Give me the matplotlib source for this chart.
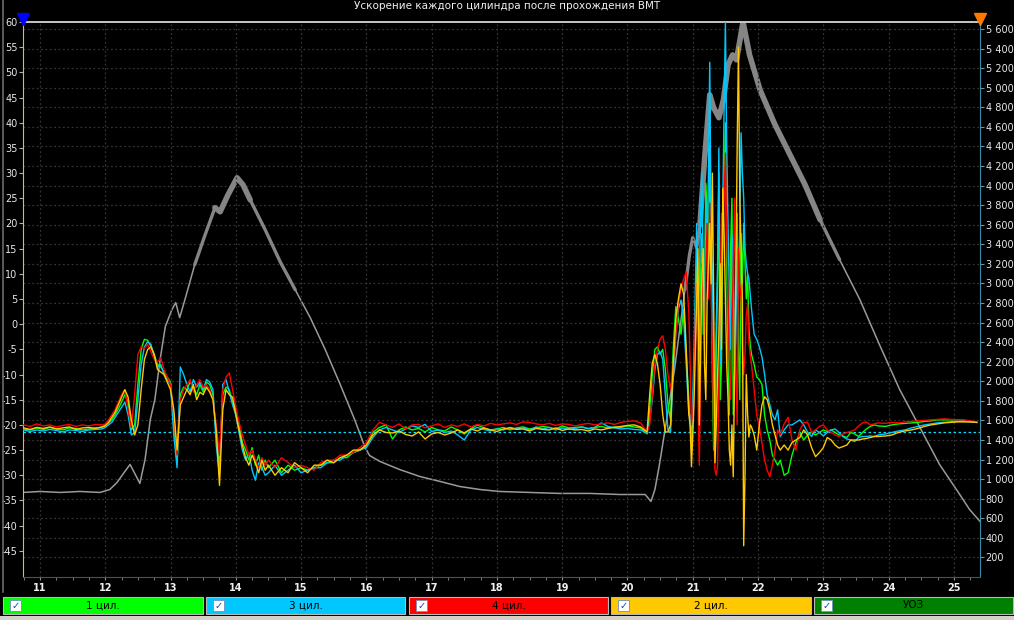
import matplotlib
matplotlib.use("Agg")
import matplotlib.pyplot as plt
import numpy as np
from matplotlib.patches import Rectangle
from matplotlib.lines import Line2D
from matplotlib.ticker import MultipleLocator, FixedLocator

plt.rcParams['font.family'] = ['DejaVu Sans']

title = "Ускорение каждого цилиндра после прохождения ВМТ"
legend_labels = ["1 цил.", "3 цил.", "4 цил.", "2 цил.", "УОЗ"]
x_ticks = [11, 12, 13, 14, 15, 16, 17, 18, 19, 20, 21, 22, 23, 24, 25]
left_ticks = [60, 55, 50, 45, 40, 35, 30, 25, 20, 15, 10, 5, 0, -5, -10, -15, -20, -25, -30, -35, -40, -45]
right_ticks = [200, 400, 600, 800, 1000, 1200, 1400, 1600, 1800, 2000, 2200, 2400, 2600, 2800,
               3000, 3200, 3400, 3600, 3800, 4000, 4200, 4400, 4600, 4800, 5000, 5200, 5400, 5600]
ref_level = -21.4

# ---- time samples for the cylinder traces ----
t_a = [10.75, 10.85, 10.95, 11.05, 11.15, 11.25, 11.35, 11.45, 11.55, 11.65, 11.75, 11.85, 11.95]
t_b = [12.00, 12.05, 12.10, 12.15, 12.20, 12.25, 12.30, 12.35, 12.40, 12.45,
       12.50, 12.55, 12.60, 12.65, 12.70, 12.75, 12.80, 12.85, 12.90, 12.95,
       13.00, 13.05, 13.10, 13.15, 13.20, 13.25, 13.30, 13.35, 13.40, 13.45,
       13.50, 13.55, 13.60, 13.65, 13.70, 13.75, 13.80, 13.85, 13.90, 13.95,
       14.00, 14.05, 14.10, 14.15, 14.20, 14.25, 14.30, 14.35, 14.40, 14.45]
t_c = [14.5, 14.6, 14.7, 14.8, 14.9, 15.0, 15.1, 15.2, 15.3, 15.4, 15.5, 15.6, 15.7, 15.8, 15.9,
       16.0, 16.1, 16.2, 16.3]
t_d = [16.4, 16.5, 16.6, 16.7, 16.8, 16.9, 17.0, 17.1, 17.2, 17.3,
       17.4, 17.5, 17.6, 17.7, 17.8, 17.9, 18.0, 18.1, 18.2, 18.3,
       18.4, 18.5, 18.6, 18.7, 18.8, 18.9, 19.0, 19.1, 19.2, 19.3,
       19.4, 19.5, 19.6, 19.7, 19.8, 19.9, 20.0, 20.1, 20.2, 20.3]
t_e1 = [20.34, 20.38, 20.42, 20.46, 20.50, 20.54, 20.58, 20.62,
        20.66, 20.70, 20.74, 20.78, 20.82, 20.86, 20.90, 20.94]
t_e2 = [20.96, 20.98, 21.00, 21.02, 21.04, 21.06, 21.08, 21.10,
        21.12, 21.14, 21.16, 21.18, 21.20, 21.22, 21.24, 21.26,
        21.28, 21.30, 21.32, 21.34, 21.36, 21.38, 21.40, 21.42,
        21.44, 21.46, 21.48, 21.50, 21.52, 21.54, 21.56, 21.58,
        21.60, 21.62, 21.64, 21.66, 21.68, 21.70, 21.72, 21.74,
        21.76, 21.78, 21.80, 21.82, 21.84, 21.86, 21.88, 21.90]
t_e3 = [21.94, 21.98, 22.02, 22.06, 22.10, 22.14, 22.18, 22.22, 22.26, 22.30]
t_f = [22.34, 22.40, 22.46, 22.52, 22.58, 22.64, 22.70, 22.76, 22.82, 22.88, 22.94, 23.00, 23.06,
       23.12, 23.18, 23.24, 23.30, 23.36, 23.42, 23.48, 23.54, 23.60, 23.66, 23.72, 23.78, 23.84]
t_g = [23.95, 24.05, 24.15, 24.25, 24.35, 24.45, 24.55, 24.65, 24.75, 24.85, 24.95, 25.05, 25.15,
       25.25, 25.35]

# ---- cylinder 1 (green) ----
c1_a = [-20.8, -21.0, -20.6, -20.9, -20.5, -20.8, -21.0, -20.6, -20.7, -21.0, -20.8, -20.6, -20.5]
c1_b = [-20.0, -19.6, -19.0, -18.0, -16.8, -15.5, -14.0, -15.5, -21.0, -20.0,
        -12.0, -5.0, -3.0, -3.2, -4.5, -6.0, -8.0, -8.5, -9.5, -10.5,
        -11.5, -20.0, -27.5, -14.0, -12.5, -13.0, -11.5, -12.5, -14.0, -12.0,
        -13.5, -11.5, -12.0, -14.0, -22.0, -28.0, -14.0, -12.5, -13.0, -15.5,
        -17.0, -20.0, -23.5, -25.0, -27.0, -24.5, -28.0, -26.0, -29.0, -27.0]
c1_c = [-28.5, -27.0, -29.5, -28.0, -29.0, -28.5, -29.0, -28.5, -28.0, -27.5, -27.5, -26.5, -26.5,
        -25.5, -25.0, -24.0, -21.5, -20.5, -20.0]
c1_d = [-22.8, -21.0, -20.4, -21.0, -20.7, -21.4, -20.5, -21.0, -21.2, -20.4,
        -21.0, -21.8, -20.8, -20.0, -20.6, -21.0, -20.8, -20.5, -21.0, -20.6,
        -20.4, -20.8, -20.6, -20.3, -20.5, -20.8, -20.2, -20.6, -20.5, -20.4,
        -20.7, -20.5, -20.3, -20.6, -20.4, -20.5, -20.2, -20.4, -20.6, -21.8]
c1_e1 = [-17, -10, -5, -4.5, -6, -5, -9, -16, -19, -5, 3.5, 1, -2, 3, -6, -15]
c1_e2 = [-20, -25, -18, -10, 2, 12, -8, -5,
         10, 18, -2, 5, 28, 22, 10, 36,
         15, -10, -25, -22, -5, 8, 30, -15,
         -8, 20, 28, 40, 12, -5, -18, 15,
         25, -18, -10, 10, 22, -5, -15, 18,
         8, 20, 12, 5, 10, -1, -4, -6]
c1_e3 = [-8, -10.5, -11, -12, -18, -21, -23, -26, -27, -28]
c1_f = [-27, -30, -29.5, -26, -23.5, -21.5, -23, -22, -21.5, -22.0, -21.5, -21.0, -21.3, -21.0,
        -21.5, -22.0, -22.2, -22.5, -21.5, -21.8, -22.3, -21.5, -20.8, -20.3, -20.0, -20.2]
c1_g = [-20.3, -20.0, -19.8, -19.7, -19.6, -19.5, -19.3, -19.2, -19.0, -19.0, -19.0, -19.0, -19.1,
        -19.3, -19.5]

# ---- cylinder 3 (cyan) ----
c3_a = [-21.0, -21.3, -21.0, -21.2, -20.9, -21.1, -21.4, -21.0, -21.1, -21.3, -21.0, -20.9, -20.8]
c3_b = [-20.5, -20.0, -19.5, -18.5, -17.5, -16.5, -15.5, -18.0, -22.0, -21.5,
        -15.0, -8.0, -4.5, -3.5, -4.0, -6.5, -8.5, -8.0, -10.0, -11.0,
        -12.0, -22.0, -28.5, -8.5, -10.0, -12.0, -13.5, -11.0, -12.5, -11.5,
        -13.0, -11.0, -11.5, -13.0, -24.0, -30.0, -12.0, -11.0, -13.5, -16.0,
        -18.0, -21.5, -25.0, -27.0, -25.5, -29.0, -31.0, -27.5, -28.5, -30.0]
c3_c = [-29.5, -28.0, -30.0, -29.0, -28.0, -29.5, -29.0, -28.5, -28.5, -27.5, -27.0, -27.0, -26.0,
        -25.5, -25.0, -24.5, -22.5, -21.0, -20.5]
c3_d = [-21.0, -21.5, -20.8, -20.2, -20.5, -19.9, -21.3, -21.0, -21.5, -21.2,
        -22.0, -23.0, -21.0, -20.5, -20.9, -21.2, -20.8, -21.0, -20.5, -20.8,
        -20.6, -21.0, -20.4, -20.8, -20.5, -21.0, -20.6, -20.9, -20.7, -20.4,
        -20.8, -20.5, -19.6, -20.3, -20.6, -20.8, -20.7, -20.9, -21.0, -21.6]
c3_e1 = [-19, -15, -9, -6, -5.5, -7, -14, -21, -21.4, -10, -2, 3, 4.8, 1, -8, -18]
c3_e2 = [-18, -22.5, -15, -5, 8, 20, 2, 8,
         22, 30, 10, -2, 25, 15, 30, 52,
         20, 10, -12, -15, 0, 12, 35, -8,
         5, 25, 42, 60, 35, 20, 5, -5,
         18, 12, -8, -3, 15, 5, 20, 38,
         30, 25, 15, 12, 10, 9, 6, 3]
c3_e3 = [-2, -3, -4.5, -6.5, -10, -14, -16, -18, -19, -17]
c3_f = [-22.3, -21.0, -20.0, -20.0, -19.5, -19.0, -20.0, -21.5, -22.3, -21.0, -21.5, -22.2, -21.5,
        -21.0, -20.8, -21.5, -22.3, -22.8, -23.0, -23.3, -22.5, -22.3, -22.3, -22.2, -22.3, -22.0]
c3_g = [-21.8, -21.5, -21.2, -21.0, -20.6, -20.3, -20.0, -19.8, -19.6, -19.5, -19.4, -19.3, -19.3,
        -19.4, -19.5]

# ---- cylinder 4 (red) ----
c4_a = [-20.0, -20.3, -19.8, -20.2, -20.0, -20.4, -20.1, -19.9, -20.3, -20.0, -20.2, -19.9, -20.0]
c4_b = [-19.8, -19.0, -18.0, -17.0, -15.5, -14.0, -13.0, -17.0, -20.5, -14.0,
        -6.0, -4.5, -4.8, -4.0, -5.5, -7.0, -7.5, -6.7, -9.0, -10.5,
        -12.0, -18.0, -26.0, -15.0, -13.0, -12.0, -11.0, -13.5, -12.0, -11.0,
        -12.5, -12.0, -13.0, -15.0, -20.0, -26.0, -13.0, -10.5, -9.7, -13.0,
        -16.5, -19.5, -22.0, -24.0, -26.0, -25.0, -27.0, -28.5, -26.5, -28.0]
c4_c = [-27.0, -28.5, -26.5, -27.5, -28.5, -28.0, -28.5, -29.0, -27.5, -27.0, -27.0, -26.0, -26.0,
        -25.5, -24.5, -23.5, -21.0, -19.5, -20.0]
c4_d = [-20.5, -19.8, -20.8, -20.0, -19.9, -20.6, -20.2, -19.8, -20.5, -20.0,
        -20.3, -19.8, -20.4, -19.9, -20.2, -19.7, -20.0, -19.8, -19.6, -19.9,
        -19.4, -19.5, -19.8, -20.0, -19.7, -20.1, -19.8, -19.9, -20.2, -19.9,
        -19.7, -20.0, -19.8, -19.6, -19.9, -19.5, -19.3, -19.2, -19.6, -21.4]
c4_e1 = [-20, -14, -8, -5, -3, -2.3, -5, -10, -13, -8, -2, 4, 7, 9, 10.4, 2]
c4_e2 = [-8, -20, -18, -12, 2, 8, -15, -28,
         -10, 12, 5, -5, 10, 20, 5, 24,
         8, -5, -20, -29, -30, -28, -10, 6,
         22, 15, 25, 34, 18, 5, -8, -15,
         -2, 10, 25, -8, -20, 15, 8, 5,
         -5, -10, -6, 2, 4, -3.7, -6, -8]
c4_e3 = [-13, -18, -20.4, -23.6, -27, -29, -30.3, -28, -25, -21]
c4_f = [-22, -19.8, -18.5, -23, -25, -21, -19.5, -19.5, -21.5, -21, -20.3, -20.0, -21, -21.5,
        -22.0, -22.3, -21.8, -21.5, -21.3, -21.0, -20.2, -19.6, -19.4, -20.0, -19.8, -19.6]
c4_g = [-19.7, -19.5, -19.6, -19.4, -19.3, -19.2, -19.1, -19.0, -18.9, -18.8, -18.9, -19.0, -19.0,
        -19.2, -19.4]

# ---- cylinder 2 (yellow) ----
c2_a = [-20.6, -20.9, -20.5, -20.7, -20.4, -20.8, -20.6, -20.4, -20.9, -20.6, -20.5, -20.7, -20.4]
c2_b = [-20.2, -19.5, -18.5, -17.5, -16.0, -14.5, -13.0, -14.5, -19.0, -22.0,
        -20.0, -13.0, -7.0, -5.0, -4.5, -6.0, -9.0, -9.5, -10.0, -11.5,
        -13.0, -17.0, -25.0, -16.0, -14.5, -13.0, -14.0, -12.0, -15.0, -13.5,
        -14.0, -12.5, -13.5, -15.0, -21.0, -32.0, -17.0, -13.0, -14.0, -14.5,
        -18.0, -21.0, -24.0, -26.5, -28.0, -26.0, -27.5, -29.5, -27.0, -29.0]
c2_c = [-28.0, -30.0, -28.5, -29.5, -27.5, -28.5, -29.5, -28.0, -28.0, -27.0, -27.5, -26.5, -26.0,
        -25.0, -25.0, -24.0, -22.0, -21.0, -21.5]
c2_d = [-21.6, -21.2, -21.9, -22.2, -21.4, -22.8, -21.8, -21.5, -22.0, -21.6,
        -21.0, -21.6, -20.8, -21.2, -20.6, -21.0, -21.3, -20.8, -20.6, -20.9,
        -20.8, -21.2, -20.7, -20.9, -21.0, -20.6, -21.1, -20.8, -21.0, -20.9,
        -21.2, -20.8, -21.0, -20.7, -20.5, -20.3, -20.1, -20.0, -20.4, -21.4]
c2_e1 = [-14, -7.7, -6, -8, -12, -18, -21.4, -21.4, -20, -8, 1, 5, 8, 6, -5, -18]
c2_e2 = [-20, -28.3, -22, -15, -5, 5, 15, -20,
         -5, 10, 15, -8, -15, 5, 12, 20,
         8, 30, 5, -27.5, -20, -10, -2, 12,
         -5, 27, 18, 5, -8, -15, -25, -28,
         -20, -30.3, -10, 10, 35, 55, 25, 15,
         5, -44, -30, -10, -18, -22.4, -20, -20.4]
c2_e3 = [-22, -25, -20, -16, -14.4, -15, -17, -20, -22, -24]
c2_f = [-25.0, -24.0, -25.0, -23.5, -23.0, -22.5, -21.0, -22.0, -24.5, -26.3, -25.5, -24.5, -22.5,
        -23.0, -24.0, -24.6, -24.3, -24.0, -23.0, -23.0, -23.0, -22.8, -22.7, -22.5, -22.3, -22.3]
c2_g = [-22.2, -22.0, -21.5, -21.2, -21.0, -20.7, -20.3, -20.0, -19.8, -19.6, -19.5, -19.4, -19.4,
        -19.4, -19.5]

# ---- engine speed (grey trace, right axis) ----
rpm_t = [10.74, 11.0, 11.31, 11.61, 11.92, 12.07, 12.18, 12.30, 12.38, 12.46, 12.53, 12.61, 12.69,
         12.76, 12.84, 12.92, 13.02, 13.08, 13.14, 13.22, 13.37, 13.53, 13.68, 13.76, 13.88, 14.02,
         14.11, 14.22, 14.45, 14.68, 14.91, 15.14, 15.37, 15.60, 15.82, 15.98, 16.05, 16.21, 16.51,
         16.82, 17.13, 17.43, 17.74, 18.04, 18.50, 18.96, 19.42, 19.88, 20.27, 20.36, 20.42, 20.49,
         20.60, 20.72, 20.80, 20.88, 20.95, 21.00, 21.06, 21.11, 21.18, 21.26, 21.32, 21.40, 21.47,
         21.54, 21.61, 21.67, 21.77, 21.87, 22.03, 22.26, 22.49, 22.72, 22.95, 23.25, 23.56, 23.86,
         24.17, 24.48, 24.78, 25.09, 25.24, 25.40]
rpm = [864, 874, 864, 874, 864, 894, 966, 1078, 1150, 1048, 956, 1200, 1609,
       1813, 2220, 2558, 2731, 2803, 2650, 2833, 3190, 3497, 3773, 3732, 3905, 4079,
       4008, 3854, 3548, 3221, 2935, 2650, 2323, 1966, 1609, 1323, 1241, 1180, 1098,
       1027, 976, 925, 894, 874, 864, 854, 854, 843, 843, 772, 894, 1150,
       1609, 2119, 2528, 2935, 3293, 3467, 3365, 3600, 4263, 4927, 4795, 4693, 4876,
       5233, 5335, 5284, 5672, 5335, 4978, 4621, 4314, 4008, 3651, 3242, 2834, 2374,
       1915, 1527, 1150, 843, 690, 568]

t_cyl = t_a + t_b + t_c + t_d + t_e1 + t_e2 + t_e3 + t_f + t_g
cyl1 = c1_a + c1_b + c1_c + c1_d + c1_e1 + c1_e2 + c1_e3 + c1_f + c1_g
cyl3 = c3_a + c3_b + c3_c + c3_d + c3_e1 + c3_e2 + c3_e3 + c3_f + c3_g
cyl4 = c4_a + c4_b + c4_c + c4_d + c4_e1 + c4_e2 + c4_e3 + c4_f + c4_g
cyl2 = c2_a + c2_b + c2_c + c2_d + c2_e1 + c2_e2 + c2_e3 + c2_f + c2_g

col_green = '#00ff00'
col_cyan = '#00c8ff'
col_red = '#ff0000'
col_yellow = '#ffc800'
col_dkgreen = '#008000'
btn_colors = [col_green, col_cyan, col_red, col_yellow, col_dkgreen]

W, H = 1014, 620
fig = plt.figure(figsize=(W / 100, H / 100), dpi=100, facecolor='black')
L, R, T, B = 23, 980, 22, 577
ax = fig.add_axes([L / W, 1 - B / H, (R - L) / W, (B - T) / H])
ax2 = ax.twinx()
ax.set_zorder(ax2.get_zorder() + 1)
ax.patch.set_visible(False)
ax2.patch.set_visible(True)
ax2.patch.set_facecolor('black')

grid_col = '#333333'
grid_ls = (0, (1.5, 2))
# right axis: engine speed
rpm_arr = np.array(rpm, dtype=float)
ax2.plot(rpm_t, rpm_arr, color='#9a9a9a', lw=1.1, zorder=3)
band_mid = np.where(rpm_arr >= 2900, rpm_arr, np.nan)
band_hi = np.where(rpm_arr >= 3600, rpm_arr, np.nan)
ax2.plot(rpm_t, band_mid, color='#858585', lw=2.4, solid_capstyle='round', zorder=3)
ax2.plot(rpm_t, band_hi, color='#858585', lw=4.0, solid_capstyle='round', zorder=3)
ax2.set_ylim(0, 5671)
ax2.yaxis.set_major_locator(FixedLocator(right_ticks))
ax2.set_yticklabels([f"{v:,}".replace(",", " ") for v in right_ticks])
ax2.grid(axis='y', color=grid_col, ls=grid_ls, lw=0.9)
ax2.tick_params(axis='y', colors='#5a9ab0', labelcolor='#e8e8e8', labelsize=7, length=3, pad=1)

# left axis: cylinders
ax.plot(t_cyl, cyl1, color=col_green, lw=1.0, zorder=4)
ax.plot(t_cyl, cyl3, color=col_cyan, lw=1.0, zorder=4)
ax.plot(t_cyl, cyl4, color=col_red, lw=1.0, zorder=4)
ax.plot(t_cyl, cyl2, color=col_yellow, lw=1.0, zorder=4)
ax.axhline(ref_level, color='#00e0ff', ls=(0, (2, 2)), lw=0.9, zorder=3)

ax.set_xlim(10.74, 25.40)
ax.set_ylim(-50.2, 60)
ax.yaxis.set_major_locator(FixedLocator(left_ticks))
ax.set_yticklabels([str(v) for v in left_ticks])
ax.tick_params(axis='y', colors='#b0b0b0', labelcolor='#e8e8e8', labelsize=7, length=3, pad=1)
ax.xaxis.set_major_locator(FixedLocator(x_ticks))
ax.xaxis.set_minor_locator(MultipleLocator(0.25))
ax.set_xticklabels([str(v) for v in x_ticks], fontweight='bold')
ax.tick_params(axis='x', which='major', colors='#909090', labelcolor='#f0f0f0', labelsize=7,
               length=2.5, pad=1.5)
ax.tick_params(axis='x', which='minor', colors='#909090', length=1.8)
ax.grid(axis='x', color=grid_col, ls=grid_ls, lw=0.9)
ax2.tick_params(axis='x', bottom=False, labelbottom=False)

for a in (ax, ax2):
    for s in a.spines.values():
        s.set_visible(False)
ax.spines['left'].set_visible(True)
ax.spines['left'].set_color('#d8c040')
ax.spines['top'].set_visible(True)
ax.spines['top'].set_color('#c8c8c8')
ax.spines['top'].set_linewidth(1.4)
ax.spines['bottom'].set_visible(True)
ax.spines['bottom'].set_color('#505050')
ax2.spines['right'].set_visible(True)
ax2.spines['right'].set_color('#3a8aa8')
ax2.spines['right'].set_linestyle((0, (3, 1)))

# title and axis markers
fig.text(0.5, 1 - 6 / H, title, ha='center', va='center', color='#f0f0f0', fontsize=7.5)
fig.add_artist(Line2D([L / W], [1 - 18.5 / H], marker='v', color='#0000ff', markersize=8.5,
                      transform=fig.transFigure))
fig.add_artist(Line2D([R / W], [1 - 18.5 / H], marker='v', color='#ff7800', markersize=8.5,
                      transform=fig.transFigure))
fig.add_artist(Line2D([2.5 / W, 2.5 / W], [1 - 592 / H, 1.0], color='#6a6a6a', lw=1.2,
                      transform=fig.transFigure))

# legend buttons
btn_x = [(3, 203), (206, 405), (409, 608), (611, 811), (814, 1013)]
by0, by1 = 597, 614
for (x0, x1), col, lab in zip(btn_x, btn_colors, legend_labels):
    fig.add_artist(Rectangle((x0 / W, 1 - by1 / H), (x1 - x0) / W, (by1 - by0) / H,
                             transform=fig.transFigure, facecolor=col, edgecolor='#b8b8b8', lw=0.8))
    fig.add_artist(Rectangle(((x0 + 7) / W, 1 - (by1 - 3) / H), 11 / W, 11 / H,
                             transform=fig.transFigure, facecolor='white', edgecolor='#7090c0', lw=0.6))
    fig.text((x0 + 12.5) / W, 1 - (by0 + 8.5) / H, '✓', color='#1a3fc0', fontsize=7,
             fontweight='bold', ha='center', va='center')
    fig.text((x0 + x1) / 2 / W, 1 - (by0 + 8.5) / H, lab, color='black', fontsize=7.5,
             ha='center', va='center')
fig.add_artist(Rectangle((0, 0), 1, 4 / H, transform=fig.transFigure, facecolor='#d4d0c8',
                         edgecolor='none'))

fig.savefig('out.png', dpi=100, facecolor='black')
